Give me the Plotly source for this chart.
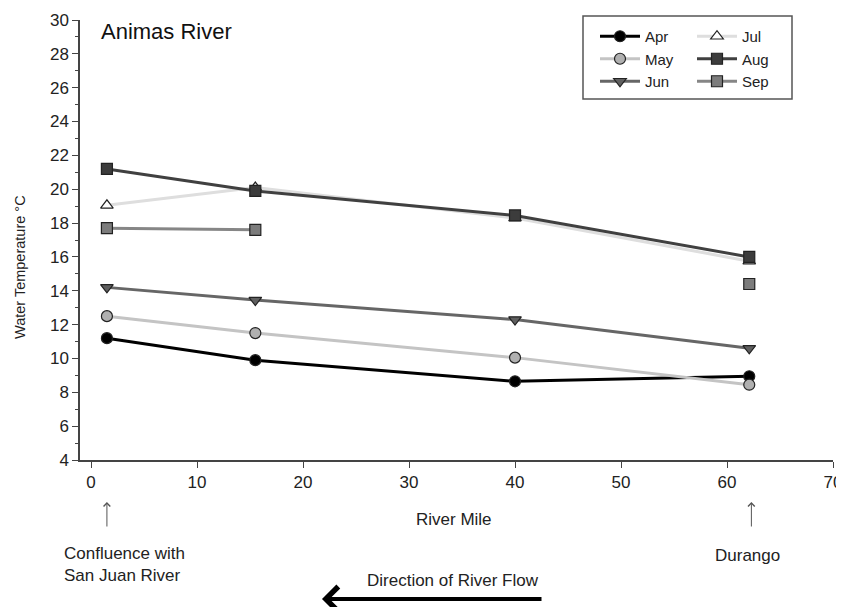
import plotly.graph_objects as go

# ---- data ----
river_mile = [1.5, 15.5, 40.0, 62.1]
apr = [11.2, 9.9, 8.65, 8.95]
may = [12.5, 11.5, 10.05, 8.45]
jun = [14.2, 13.45, 12.3, 10.6]
jul = [19.05, 20.1, 18.3, 15.75]
aug = [21.2, 19.9, 18.45, 16.0]
sep = [17.7, 17.6, None, 14.4]

months = ["Apr", "May", "Jun", "Jul", "Aug", "Sep"]
values = [apr, may, jun, jul, aug, sep]

x_ticks = [0, 10, 20, 30, 40, 50, 60, 70]
y_ticks = list(range(4, 31, 2))

# ---- styles ----
styles = {
    "Apr": dict(line="#000000", fill="#000000", symbol="circle", legend="legend"),
    "May": dict(line="#c4c4c4", fill="#b0b0b0", symbol="circle", legend="legend"),
    "Jun": dict(line="#666666", fill="#5f5f5f", symbol="triangle-down", legend="legend"),
    "Jul": dict(line="#dedede", fill="#ffffff", symbol="triangle-up", legend="legend2"),
    "Aug": dict(line="#404040", fill="#3c3c3c", symbol="square", legend="legend2"),
    "Sep": dict(line="#868686", fill="#7c7c7c", symbol="square", legend="legend2"),
}

FONT = "Liberation Sans, Arial, sans-serif"

fig = go.Figure()
for name, vals in zip(months, values):
    s = styles[name]
    fig.add_trace(go.Scatter(
        x=river_mile, y=vals, name=name, mode="lines+markers",
        connectgaps=False,
        line=dict(color=s["line"], width=3),
        marker=dict(symbol=s["symbol"], size=11, color=s["fill"],
                    line=dict(color="#222222", width=1.2)),
        legend=s["legend"],
    ))

# The page body has an 8px margin, so the figure is drawn 8px right/down.
OFF = 8
# plot area in screen (reference) pixels
PX0, PX1, PY0, PY1 = 80, 833, 20, 460
W, H = 844 - OFF, 607 - OFF
L, T = PX0 - OFF, PY0 - OFF
R, B = 844 - PX1, 607 - PY1
PW, PH = PX1 - PX0, PY1 - PY0


def px(xs):
    return (xs - PX0) / PW


def py(ys):
    return (PY1 - ys) / PH


axis_color = "#444444"
fig.update_layout(
    width=W, height=H,
    margin=dict(l=L, r=R, t=T, b=B, pad=0, autoexpand=False),
    paper_bgcolor="white", plot_bgcolor="white",
    font=dict(family=FONT, size=16, color="#222222"),
    xaxis=dict(range=[-1.04, 70], tickvals=x_ticks, ticks="outside", ticklen=6,
               tickcolor=axis_color, showline=True, linecolor=axis_color, linewidth=1.5,
               showgrid=False, zeroline=False, tickfont=dict(size=17), automargin=False),
    yaxis=dict(range=[4, 30], tickvals=y_ticks, ticks="outside", ticklen=6,
               tickcolor=axis_color, showline=True, linecolor=axis_color, linewidth=1.5,
               showgrid=False, zeroline=False, tickfont=dict(size=17), automargin=False,
               minor=dict(dtick=1, ticks="outside", ticklen=3, tickcolor=axis_color)),
    showlegend=True,
    legend=dict(x=px(595), y=py(20), xanchor="left", yanchor="top",
                bgcolor="rgba(0,0,0,0)", borderwidth=0, tracegroupgap=0,
                font=dict(size=15), itemwidth=40),
    legend2=dict(x=px(692), y=py(20), xanchor="left", yanchor="top",
                 bgcolor="rgba(0,0,0,0)", borderwidth=0, tracegroupgap=0,
                 font=dict(size=15), itemwidth=40),
    shapes=[dict(type="rect", xref="paper", yref="paper",
                 x0=px(583), x1=px(792), y0=py(99), y1=py(16),
                 line=dict(color="#555555", width=1.5), fillcolor="rgba(0,0,0,0)")],
)

ann = []
ann.append(dict(text="Animas River", xref="paper", yref="paper", x=px(99), y=py(32),
                xanchor="left", yanchor="middle", showarrow=False,
                font=dict(size=22, color="#111111")))
ann.append(dict(text="Water Temperature °C", xref="paper", yref="paper", x=px(20), y=py(267),
                xanchor="center", yanchor="middle", textangle=-90, showarrow=False,
                font=dict(size=14.5)))
ann.append(dict(text="River Mile", xref="paper", yref="paper", x=px(454), y=py(520),
                xanchor="center", yanchor="middle", showarrow=False, font=dict(size=17)))
ann.append(dict(text="Confluence with<br>San Juan River", xref="paper", yref="paper",
                x=px(62), y=py(564), xanchor="left", yanchor="middle", align="left",
                showarrow=False, font=dict(size=17)))
ann.append(dict(text="Durango", xref="paper", yref="paper", x=px(747), y=py(555),
                xanchor="center", yanchor="middle", showarrow=False, font=dict(size=17)))
ann.append(dict(text="Direction of River Flow", xref="paper", yref="paper", x=px(453), y=py(580),
                xanchor="center", yanchor="middle", showarrow=False, font=dict(size=17)))
# small location arrows
for xm in [river_mile[0], 62.3]:
    ann.append(dict(text="", x=xm, xref="x", y=py(502), yref="paper",
                    ax=0, ay=26, axref="pixel", ayref="pixel", showarrow=True,
                    arrowhead=4, arrowsize=1.3, arrowwidth=1, arrowcolor="#555555"))
# flow direction arrow
ann.append(dict(text="", x=px(322), xref="paper", y=py(599), yref="paper",
                ax=221, ay=0, showarrow=True, arrowhead=4, arrowsize=1.2,
                arrowwidth=4, arrowcolor="#000000"))
fig.update_layout(annotations=ann)

fig.write_html("out.html")
